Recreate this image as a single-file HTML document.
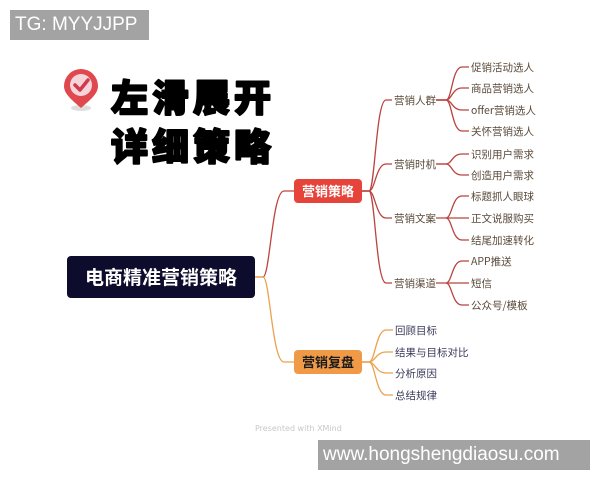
<!DOCTYPE html>
<html><head><meta charset="utf-8"><style>
html,body{margin:0;padding:0;background:#fff;}
body{width:600px;height:480px;position:relative;overflow:hidden;font-family:"Liberation Sans","Noto Sans CJK SC",sans-serif;}
.wm{position:absolute;background:#a3a3a3;color:#fff;}
</style></head><body>
<div class="wm" style="left:10px;top:10px;width:139px;height:30px;font-size:19px;line-height:30px;padding-left:5px;box-sizing:border-box;">TG: MYYJJPP</div>
<svg width="600" height="480" style="position:absolute;left:0;top:0" xmlns="http://www.w3.org/2000/svg">
<ellipse cx="81" cy="108" rx="10" ry="3" fill="#ddd"/>
<path d="M81 108 C72 100 64 94 64 86 A17 17 0 0 1 98 86 C98 94 90 100 81 108 Z" fill="#e0484f"/>
<circle cx="81" cy="85" r="11" fill="#f5d5da"/>
<path d="M75 85 L80 90 L88 80" stroke="#d03a4c" stroke-width="3.5" fill="none" stroke-linecap="round" stroke-linejoin="round"/>
<g font-family="'Noto Sans CJK SC',sans-serif" font-weight="900" font-size="37" fill="#000" stroke="#000" stroke-width="2" stroke-linejoin="round" letter-spacing="4">
<text x="111" y="111">左滑展开</text>
<text x="111" y="160">详细策略</text>
</g>

<g fill="none" stroke-width="1.3">
<path d="M255 277 L263 277 C270 277 272 191 284 191 L294 191" stroke="#c0443c"/>
<path d="M255 277 L263 277 C270 277 272 362 284 362 L294 362" stroke="#eaa24e"/>
<g stroke="#b9443f">
<path d="M362 191 L369 191 C375 191 376 100 386 100 L392 100"/>
<path d="M362 191 L369 191 C375 191 376 164 386 164 L392 164"/>
<path d="M362 191 L369 191 C375 191 376 218 386 218 L392 218"/>
<path d="M362 191 L369 191 C375 191 376 283 386 283 L392 283"/>
<path d="M436 100 L446 100 C452 100 452 67 462 67 L469 67"/>
<path d="M436 100 L446 100 C452 100 452 88 462 88 L469 88"/>
<path d="M436 100 L446 100 C452 100 452 110 462 110 L469 110"/>
<path d="M436 100 L446 100 C452 100 452 131 462 131 L469 131"/>
<path d="M436 164 L446 164 C452 164 452 154 462 154 L469 154"/>
<path d="M436 164 L446 164 C452 164 452 175 462 175 L469 175"/>
<path d="M436 218 L469 218"/>
<path d="M446 218 C452 218 452 196 462 196 L469 196"/>
<path d="M446 218 C452 218 452 240 462 240 L469 240"/>
<path d="M436 283 L469 283"/>
<path d="M446 283 C452 283 452 261 462 261 L469 261"/>
<path d="M446 283 C452 283 452 305 462 305 L469 305"/>
</g>
<g stroke="#eaa24e">
<path d="M362 362 L369 362 C375 362 376 330 386 330 L393 330"/>
<path d="M362 362 L369 362 C375 362 376 352 386 352 L393 352"/>
<path d="M362 362 L369 362 C375 362 376 373 386 373 L393 373"/>
<path d="M362 362 L369 362 C375 362 376 395 386 395 L393 395"/>
</g>
</g>

<rect x="67" y="256" width="188" height="42" rx="4" fill="#0e0c2c"/>
<text x="161" y="284" text-anchor="middle" font-family="'Noto Sans CJK SC',sans-serif" font-weight="700" font-size="19" fill="#fff">电商精准营销策略</text>
<rect x="294" y="179" width="68" height="24" rx="4" fill="#e6443a"/>
<text x="328" y="196" text-anchor="middle" font-family="'Noto Sans CJK SC',sans-serif" font-weight="700" font-size="13" fill="#fff">营销策略</text>
<rect x="294" y="350" width="68" height="24" rx="4" fill="#f09a48"/>
<text x="328" y="367" text-anchor="middle" font-family="'Noto Sans CJK SC',sans-serif" font-weight="700" font-size="13" fill="#1a1a1a">营销复盘</text>

<g font-family="'Noto Sans CJK SC',sans-serif" font-size="10.5" fill="#5a4a3a">
<text x="394" y="104">营销人群</text>
<text x="394" y="168">营销时机</text>
<text x="394" y="222">营销文案</text>
<text x="394" y="287">营销渠道</text>
<text x="471" y="71">促销活动选人</text>
<text x="471" y="92">商品营销选人</text>
<text x="471" y="114">offer营销选人</text>
<text x="471" y="135">关怀营销选人</text>
<text x="471" y="158">识别用户需求</text>
<text x="471" y="179">创造用户需求</text>
<text x="471" y="200">标题抓人眼球</text>
<text x="471" y="222">正文说服购买</text>
<text x="471" y="244">结尾加速转化</text>
<text x="471" y="265">APP推送</text>
<text x="471" y="287">短信</text>
<text x="471" y="309">公众号/模板</text>
</g>
<g font-family="'Noto Sans CJK SC',sans-serif" font-size="10.5" fill="#3a3a5a">
<text x="395" y="334">回顾目标</text>
<text x="395" y="356">结果与目标对比</text>
<text x="395" y="377">分析原因</text>
<text x="395" y="399">总结规律</text>
</g>
<text x="255" y="431" font-size="8" fill="#c8c8c8" font-family="'DejaVu Sans',sans-serif">Presented with XMind</text>
</svg>
<div class="wm" style="left:318px;top:440px;width:272px;height:30px;font-size:19px;line-height:30px;padding-left:5px;box-sizing:border-box;">www.hongshengdiaosu.com</div>
</body></html>
